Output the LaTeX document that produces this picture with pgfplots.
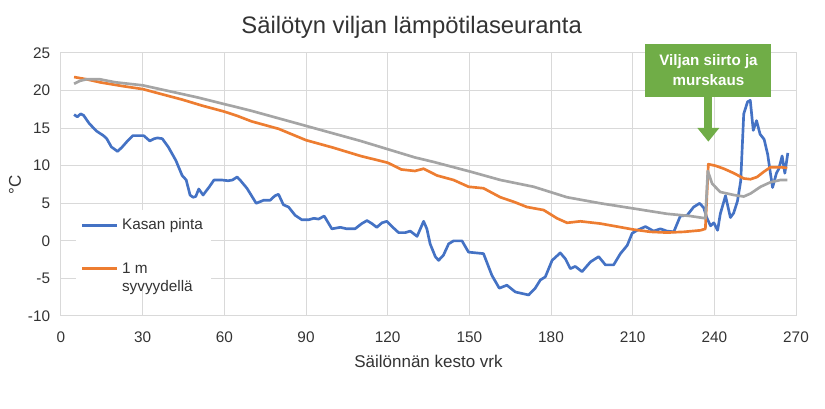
\documentclass[border=0pt]{standalone}
\usepackage{fontspec}
\setmainfont{Liberation Sans}
\usepackage{pgfplots}
\pgfplotsset{compat=1.18}
\usetikzlibrary{arrows.meta}

\definecolor{sblue}{HTML}{4472C4}
\definecolor{sorange}{HTML}{ED7D31}
\definecolor{sgray}{HTML}{A5A5A5}
\definecolor{sgreen}{HTML}{70AD47}
\definecolor{gridgray}{HTML}{D9D9D9}
\definecolor{txt}{HTML}{333333}

\begin{document}
\begin{tikzpicture}
% picture frame: 825 x 409 px at 0.6 pt per px
\path[use as bounding box] (-36.6pt,-55.8pt) rectangle (458.4pt,189.6pt);
\begin{axis}[
  at={(0,0)}, anchor=south west,
  scale only axis,
  width=441pt, height=157.8pt,
  xmin=0, xmax=270, ymin=-10, ymax=25,
  xtick={0,30,...,270}, ytick={-10,-5,...,25},
  /pgf/number format/assume math mode=true,
  tick label style={font=\fontsize{9.2}{11}\selectfont, text=txt},
  xticklabel style={yshift=-6pt},
  yticklabel style={xshift=-3pt},
  major tick length=0pt,
  axis line style={draw=gridgray, line width=0.6pt},
  grid=major,
  grid style={gridgray, line width=0.6pt},
  clip=false,
  title={Säilötyn viljan lämpötilaseuranta},
  title style={at={(axis description cs:0.477,1)}, anchor=base, yshift=5.6pt,
    font=\fontsize{14.3}{17}\selectfont, text=txt},
  xlabel={Säilönnän kesto vrk},
  ylabel={°C},
  every axis x label/.style={at={(axis description cs:0.5,0)}, yshift=-27pt,
    anchor=center, font=\fontsize{10.2}{12}\selectfont, text=txt},
  every axis y label/.style={at={(axis description cs:0,0.5)}, xshift=-27.6pt,
    rotate=90, anchor=center, font=\fontsize{10.2}{12}\selectfont, text=txt},
  legend cell align=left,
  legend image code/.code={\draw[#1] (0pt,0pt) -- (21pt,0pt);},
  legend style={at={(axis description cs:0.02,0.403)}, anchor=north west,
    draw=none, fill=white, font=\fontsize{9.2}{11}\selectfont, text=txt,
    row sep=13pt, inner sep=3pt},
]

\addplot[sblue, line width=1.6pt, line join=round] coordinates {
(4.8,16.8)(6,16.5)(7.2,16.9)(8.3,16.7)(10.4,15.6)(13.1,14.6)(15.6,14.0)(16.8,13.6)
(18.5,12.5)(20.8,11.9)(22.5,12.5)(24.7,13.4)(26.4,14.0)(28.6,14.0)(30.4,14.0)(32.6,13.3)
(34.3,13.6)(35.4,13.7)(37.2,13.6)(39.4,12.5)(42.2,10.7)(44.5,8.7)(46,8.1)(47.4,6.1)
(48.5,5.8)(49.5,5.9)(50.6,6.9)(52.2,6.1)(54.5,7.2)(56.2,8.1)(59,8.1)(61.4,8.0)
(63,8.1)(64.7,8.5)(66,8.0)(68.3,7.0)(69.5,6.3)(71.7,5.0)(74.4,5.4)(76.8,5.4)
(78.6,6.0)(79.9,6.2)(81.7,4.8)(83.6,4.5)(86,3.4)(88.5,2.8)(90.9,2.8)(92.9,3.0)
(94.6,2.9)(96.7,3.3)(99.5,1.6)(102.6,1.8)(105,1.6)(108,1.6)(110.5,2.3)(112.4,2.7)
(114.2,2.3)(116,1.8)(117.9,2.4)(119.7,2.6)(121.6,1.9)(124,1.1)(126.5,1.1)(128.3,1.3)
(130.8,0.6)(133.2,2.6)(134.4,1.6)(135.6,-0.4)(137.5,-2.1)(138.7,-2.6)(140.5,-1.9)(142.4,-0.4)
(144.2,0)(147.3,0)(149.7,-1.5)(155.2,-1.7)(158.3,-4.6)(161,-6.3)(163.8,-5.9)(166.9,-6.8)
(169.3,-7.0)(171.8,-7.2)(174.2,-6.3)(176.1,-5.2)(177.9,-4.8)(180.4,-2.6)(183.4,-1.6)(185.3,-2.4)
(187.1,-3.7)(188.9,-3.4)(191.4,-4.1)(194.5,-2.8)(197.5,-2.1)(200,-3.2)(203,-3.2)(205.5,-1.7)
(208,-0.6)(209.8,1.0)(211.6,1.4)(214.7,1.9)(217.7,1.3)(220.2,1.6)(222.6,1.3)(225.1,1.2)
(227.5,3.3)(230,3.4)(232.4,4.5)(234.6,5.0)(236.1,4.4)(237.2,3.1)(238.6,2.0)(239.8,2.4)
(241.2,1.4)(242.2,3.6)(244.1,6.0)(245.9,3.1)(247.1,3.7)(248.5,5.3)(249.7,8.0)(250.8,16.9)
(252.2,18.5)(253.2,18.7)(254.3,14.7)(255.5,16.0)(256.8,14.2)(258.3,13.5)(259.6,11.5)(260.6,9.0)
(261.4,7.1)(262.8,9.0)(263.7,9.6)(264.9,11.3)(265.9,9.0)(267,11.7)
};
\addlegendentry{Kasan pinta}

\addplot[sorange, line width=1.6pt, line join=round] coordinates {
(4.8,21.8)(9.4,21.5)(14.3,21.1)(19.2,20.8)(22.5,20.6)(30,20.2)(37.2,19.5)(44.5,18.8)
(51.8,18.0)(60,17.2)(65,16.6)(70,15.9)(80,14.9)(90,13.4)(100,12.4)(110,11.3)
(120,10.4)(125,9.5)(130,9.3)(133.2,9.6)(138.1,8.7)(144.2,8.1)(149.7,7.2)(155.2,7.0)
(161.4,5.8)(166.3,5.2)(171.2,4.5)(177.3,4.1)(182.2,3.0)(185.9,2.4)(190.8,2.6)(198.1,2.3)
(204.3,1.9)(210.4,1.5)(216.5,1.2)(222.6,1.1)(228.8,1.2)(234.9,1.4)(236.7,1.6)(237.8,10.2)
(240.4,10.0)(243.5,9.6)(247.2,9.0)(250.8,8.3)(253.3,8.2)(255.7,8.5)(258.2,9.2)(260.6,9.8)
(264.3,9.8)(266.8,9.7)
};
\addlegendentry{\begin{tabular}[t]{@{}l@{}}1 m\\syvyydellä\end{tabular}}

\addplot[sgray, line width=1.6pt, line join=round, forget plot] coordinates {
(4.8,20.9)(7,21.3)(9.4,21.5)(14.3,21.5)(20,21.1)(30,20.7)(40,19.9)(50,19.1)
(60,18.2)(70,17.3)(80,16.3)(90,15.3)(100,14.3)(110,13.3)(120,12.2)(130,11.1)
(136.9,10.5)(150.5,9.2)(161.4,8.1)(173.6,7.2)(185.9,5.8)(198.1,5.0)(210.4,4.3)(222.6,3.6)
(231.2,3.3)(236.7,3.0)(237.6,9.3)(239.2,7.6)(242.2,6.5)(247.2,6.1)(250.8,5.9)(253.3,6.3)
(257,7.2)(260.6,7.8)(264.3,8.1)(266.8,8.1)
};

% annotation: grain transfer and crushing
\draw[sgreen, line width=4.8pt, -{Triangle[width=12.6pt,length=8.2pt]}]
  (axis cs:237.8,19.3) -- (axis cs:237.8,13.2);
\node[fill=sgreen, text=white, font=\bfseries\fontsize{9.1}{12}\selectfont,
  align=center, minimum width=75.6pt, minimum height=31.8pt, inner sep=0pt]
  at (axis cs:237.85,22.7) {Viljan siirto ja\\murskaus};
\end{axis}
\end{tikzpicture}
\end{document}
